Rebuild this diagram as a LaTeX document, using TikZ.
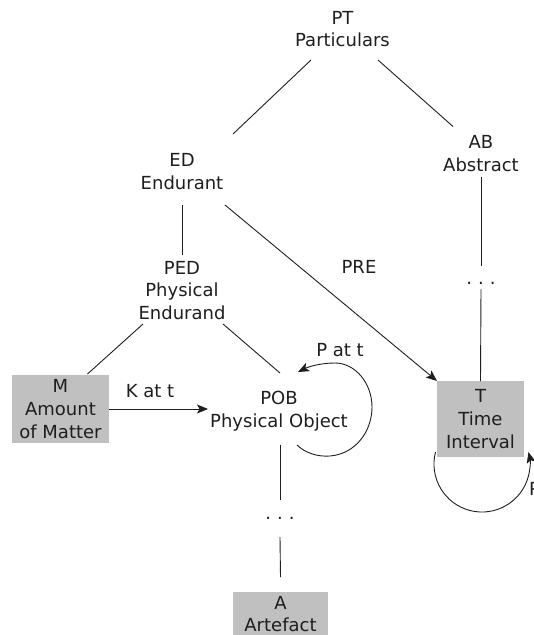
\documentclass[tikz,border=0pt]{standalone}
\usepackage{fontspec}
\setmainfont{DejaVu Sans}
\usetikzlibrary{arrows.meta,calc}
\definecolor{boxgray}{HTML}{C0C0C0}
\definecolor{inkcol}{HTML}{1E1E1E}
\begin{document}
\begin{tikzpicture}[x=1pt,y=-1pt,
  lbl/.style={font=\fontsize{18}{22.7}\selectfont, align=center, inner sep=0pt, outer sep=0pt, text=inkcol},
  gbox/.style={lbl, fill=boxgray},
  ln/.style={line width=0.9pt, draw=inkcol},
  arr/.style={ln, -{Stealth[length=11pt,width=9pt,inset=2.5pt]}}
]
\useasboundingbox (0,0) rectangle (534,635);
\clip (0,0) rectangle (534,635);

% nodes
\node[lbl] (PT)  at (342.5,29)   {PT\\Particulars};
\node[lbl] (ED)  at (182,171.5)  {ED\\Endurant};
\node[lbl] (AB)  at (481,153.5)  {AB\\Abstract};
\node[lbl] (PED) at (182,290.5)  {PED\\Physical\\Endurand};
\node[lbl] (POB) at (279,411.5)  {POB\\Physical Object};
\node[gbox, minimum width=97pt, minimum height=68pt] (M) at (60.5,409) {M\\Amount\\of Matter};
\node[gbox, minimum width=87pt, minimum height=76pt] (T) at (480.5,419) {T\\Time\\Interval};
\node[gbox, minimum width=95pt, minimum height=44pt] (A) at (280.5,614) {A\\Artefact};
\node[lbl] (dotsAB)  at (481,283) {.\hspace{6pt}.\hspace{6pt}.};
\node[lbl] (dotsPOB) at (280,518) {.\hspace{6pt}.\hspace{6pt}.};
\node[lbl] (PRE)  at (359,267) {PRE};
\node[lbl] (Katt) at (150,391) {K at t};
\node[lbl] (Patt) at (340,350) {P at t};
\node[lbl, anchor=west] (Patt2) at (529,489) {P at t};

% taxonomy lines
\draw[ln] ($(PT)+(-31.5,31)$) -- ($(ED)+(51,-37.5)$);
\draw[ln] ($(PT)+(35.5,31)$) -- ($(AB)+(-28,-27)$);
\draw[ln] ($(ED)+(0,33.5)$) -- ($(PED)+(0,-35.5)$);
\draw[ln] ($(AB)+(0,23.5)$) -- ($(dotsAB)+(0,-17)$);
\draw[ln] ($(dotsAB)+(0,6)$) -- (T.north);
\draw[ln] ($(PED)+(-39,33.5)$) -- ($(M.north)+(27,-1)$);
\draw[ln] ($(PED)+(41,33.5)$) -- ($(POB)+(1,-38.5)$);
\draw[ln] ($(POB)+(1,33)$) -- ($(dotsPOB)+(0,-18)$);
\draw[ln] ($(dotsPOB)+(0,19)$) -- ($(A.north)+(0,-15)$);

% relations
\draw[arr] ($(ED)+(43,33.5)$) -- (T.north west);
\draw[arr] (M.east) -- ++(99,0);

% POB self loop
\begin{scope}[shift={(POB.center)}]
\draw[arr] (18,33.5) .. controls (26,41.5) and (39,45.5) .. (51,44.5)
  .. controls (76,42.5) and (93,20.5) .. (93,-4.5)
  .. controls (93,-28.5) and (76,-48.5) .. (56,-48.5)
  .. controls (41,-48.5) and (29,-44.5) .. (19,-39.5);
\end{scope}

% T self loop
\draw[arr] ($(T.center)+(-45,33)$) arc[start angle=194.5, end angle=-14.5, radius=48];
\end{tikzpicture}
\end{document}
